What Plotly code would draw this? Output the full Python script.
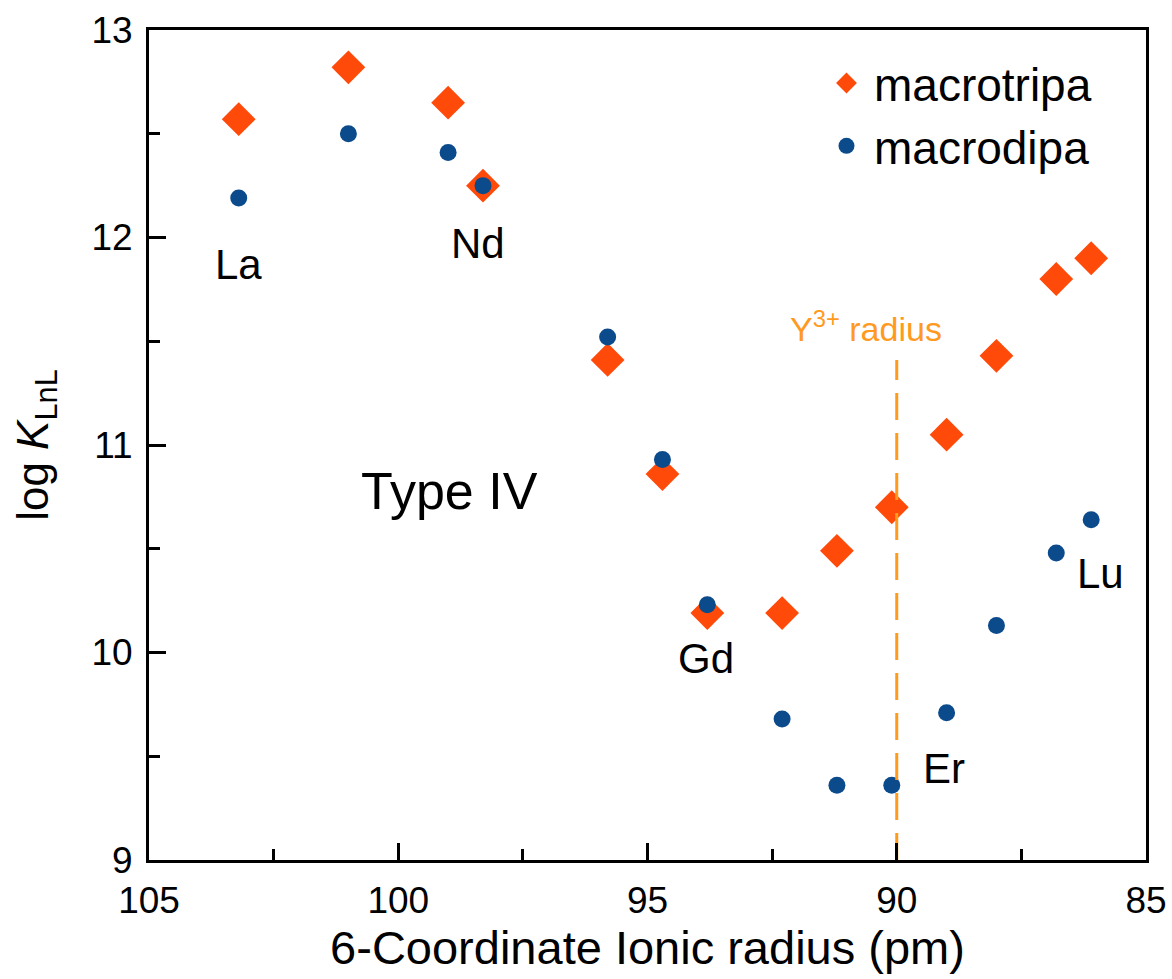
import plotly.graph_objects as go

elements = ["La", "Ce", "Pr", "Nd", "Sm", "Eu", "Gd", "Tb", "Dy", "Ho", "Er", "Tm", "Yb", "Lu"]
radius = [103.2, 101.0, 99.0, 98.3, 95.8, 94.7, 93.8, 92.3, 91.2, 90.1, 89.0, 88.0, 86.8, 86.1]
macrotripa = [12.57, 12.82, 12.65, 12.25, 11.41, 10.86, 10.19, 10.19, 10.49, 10.70, 11.05, 11.43, 11.80, 11.90]
macrodipa = [12.19, 12.50, 12.41, 12.25, 11.52, 10.93, 10.23, 9.68, 9.36, 9.36, 9.71, 10.13, 10.48, 10.64]

labels = ["La", "Nd", "Gd", "Er", "Lu"]
label_x = [103.2, 98.41, 93.82, 89.06, 85.92]
label_y = [11.87, 11.97, 9.97, 9.44, 10.38]

y_radius = 90.0
y_line_top = 11.41

font_family = "Liberation Sans, Arial, sans-serif"
orange = "#FF4A0A"
blue = "#0B4A8B"
line_orange = "#FF9A1F"

fig = go.Figure()
fig.add_trace(go.Scatter(x=radius, y=macrotripa, mode="markers", name="macrotripa",
                         legendgroup="a",
                         marker=dict(symbol="diamond", size=26, color=orange)))
fig.add_trace(go.Scatter(x=radius, y=macrodipa, mode="markers", name="macrodipa",
                         legendgroup="b",
                         marker=dict(symbol="circle", size=17, color=blue)))
fig.add_trace(go.Scatter(x=[y_radius, y_radius], y=[9, y_line_top], mode="lines",
                         showlegend=False,
                         line=dict(color=line_orange, width=3, dash="27px,13px")))

for t, x, y in zip(labels, label_x, label_y):
    fig.add_annotation(x=x, y=y, text=t, showarrow=False,
                       font=dict(size=42, color="black", family=font_family))
fig.add_annotation(x=98.97, y=10.78, text="Type IV", showarrow=False,
                   font=dict(size=52, color="black", family=font_family))
fig.add_annotation(x=90.62, y=11.57, text="Y<sup>3+</sup> radius", showarrow=False,
                   font=dict(size=34, color=line_orange, family=font_family))

axis_common = dict(showline=True, linecolor="black", linewidth=3, mirror=True,
                   ticks="inside", ticklen=17, tickwidth=3, tickcolor="black",
                   showgrid=False, zeroline=False, ticklabelstandoff=6,
                   tickfont=dict(size=37, color="black", family=font_family))

fig.update_xaxes(range=[105, 85], tick0=85, dtick=5, ticklabeloverflow="allow", automargin=False,
                 minor=dict(ticks="inside", ticklen=11, tickwidth=3, tickcolor="black", dtick=2.5, tick0=85),
                 title=dict(text="6-Coordinate Ionic radius (pm)", font=dict(size=47, color="black", family=font_family), standoff=8),
                 **axis_common)
fig.update_yaxes(range=[9, 13], tick0=9, dtick=1, automargin=False,
                 minor=dict(ticks="inside", ticklen=11, tickwidth=3, tickcolor="black", dtick=0.5, tick0=9),
                 title=dict(text="log <i>K</i><sub>LnL</sub>", font=dict(size=44, color="black", family=font_family), standoff=30),
                 **axis_common)

fig.update_layout(
    width=1172, height=979,
    margin=dict(l=149, r=26, t=30, b=119),
    paper_bgcolor="white", plot_bgcolor="white",
    legend=dict(x=0.672, y=0.98, xanchor="left", yanchor="top",
                font=dict(size=46, color="black", family=font_family),
                itemwidth=45,
                tracegroupgap=0, bgcolor="rgba(0,0,0,0)"),
)

fig.write_html("out.html")
